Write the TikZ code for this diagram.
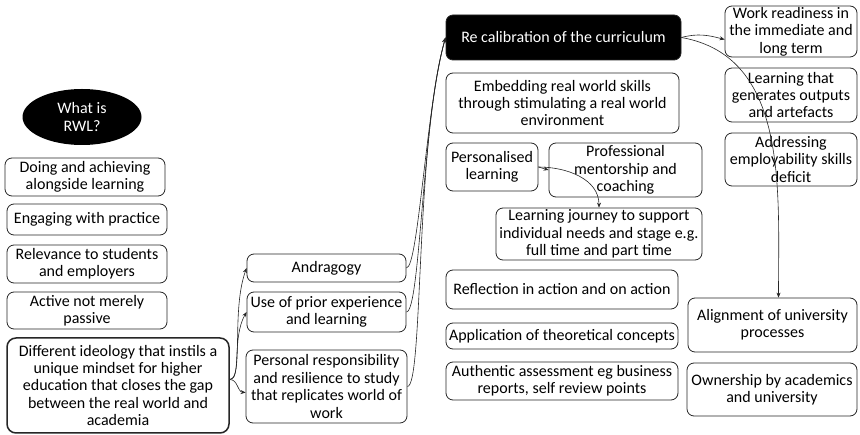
\documentclass[tikz,border=0pt]{standalone}
\usepackage{fontspec}
\setmainfont{Carlito}
\usetikzlibrary{shapes.geometric,arrows.meta}
\begin{document}
\begin{tikzpicture}[x=1pt,y=1pt,
  every node/.style={font=\fontsize{16}{17.4}\selectfont},
  rbox/.style={draw=black!85, line width=0.8pt, rounded corners=7pt, align=center, inner sep=0pt},
  thickbox/.style={rbox, line width=1.5pt, rounded corners=9pt},
  darkbox/.style={rbox, fill=black, text=white},
  darkell/.style={ellipse, fill=black, text=white, align=center, inner sep=0pt},
  sz/.style 2 args={minimum width=#1pt, minimum height=#2pt},
  conn/.style={draw=black!85, line width=0.6pt, -{Stealth[length=5pt,width=4pt]}}
]
\fill[white] (0,0) rectangle (860,-435);
\useasboundingbox (0,0) rectangle (860,-435);

% left column
\node[darkell, sz={119}{56}] (what) at (82,-117) {What is\\RWL?};
\node[rbox, sz={160}{38}] (doing) at (85,-177) {Doing and achieving\\alongside learning};
\node[rbox, sz={160}{31}] (engaging) at (87,-219.5) {Engaging with practice};
\node[rbox, sz={160}{38}] (relevance) at (87,-264) {Relevance to students\\and employers};
\node[rbox, sz={160}{37}] (active) at (87,-310.5) {Active not merely\\passive};
\node[thickbox, sz={222}{95}] (di) at (118,-385.5) {Different ideology that instils a\\unique mindset for higher\\education that closes the gap\\between the real world and\\academia};

% middle column
\node[rbox, sz={159}{28}] (ad) at (326.5,-268) {Andragogy};
\node[rbox, sz={159}{40}] (up) at (326.5,-312) {Use of prior experience\\and learning};
\node[rbox, sz={161}{73}] (pr) at (326.5,-386.5) {Personal responsibility\\and resilience to study\\that replicates world of\\work};

% curriculum column
\node[darkbox, sz={235}{45}] (root) at (563.5,-37.5) {Re calibration of the curriculum};
\node[rbox, sz={233}{60}] (emb) at (562.5,-103) {Embedding real world skills\\through stimulating a real world\\environment};
\node[rbox, sz={92}{48}] (pl) at (492,-167) {Personalised\\learning};
\node[rbox, sz={153}{54}] (pm) at (625.5,-170) {Professional\\mentorship and\\coaching};
\node[rbox, sz={206}{52}] (lj) at (599,-234) {Learning journey to support\\individual needs and stage e.g.\\full time and part time};
\node[rbox, sz={232}{39}] (refl) at (562,-289.5) {Reflection in action and on action};
\node[rbox, sz={232}{26}] (app) at (562,-336) {Application of theoretical concepts};
\node[rbox, sz={232}{38}] (auth) at (562,-381) {Authentic assessment eg business\\reports, self review points};

% right column
\node[rbox, sz={132}{51}] (wr) at (791,-31.5) {Work readiness in\\the immediate and\\long term};
\node[rbox, sz={132}{54}] (lg) at (791,-95) {Learning that\\generates outputs\\and artefacts};
\node[rbox, sz={132}{53}] (adr) at (791,-159.5) {Addressing\\employability skills\\deficit};
\node[rbox, sz={169}{54}] (al) at (772.5,-325) {Alignment of university\\processes};
\node[rbox, sz={170}{53}] (own) at (772,-389.5) {Ownership by academics\\and university};

% connectors from the ideology box
\coordinate (dis) at ([yshift=6pt]di.east);
\draw[conn] (dis) to[out=0,in=250,out distance=14pt,in distance=45pt] (ad.west);
\draw[conn] (dis) to[out=0,in=240,out distance=12pt,in distance=30pt] (up.west);
\draw[conn] (dis) to[out=0,in=175] ([yshift=-6pt]pr.west);

% connectors into the curriculum node
\draw[conn] (ad.east) to[out=0,in=254,out distance=12pt,in distance=70pt] (root.west);
\draw[conn] (up.east) to[out=0,in=254,out distance=14pt,in distance=85pt] (root.west);
\draw[conn] (pr.east) to[out=0,in=254,out distance=16pt,in distance=110pt] (root.west);

% connectors out of the curriculum node
\draw[conn] (root.east) to[out=15,in=165] ([yshift=-8pt]wr.west);
\draw[conn] (root.east) to[out=-10,in=90] ([xshift=6pt]al.north);

% personalised learning
\draw[conn] (pl.east) -- (pm.west);
\draw[conn] (pl.east) to[out=0,in=90] (lj.north);
\end{tikzpicture}
\end{document}
